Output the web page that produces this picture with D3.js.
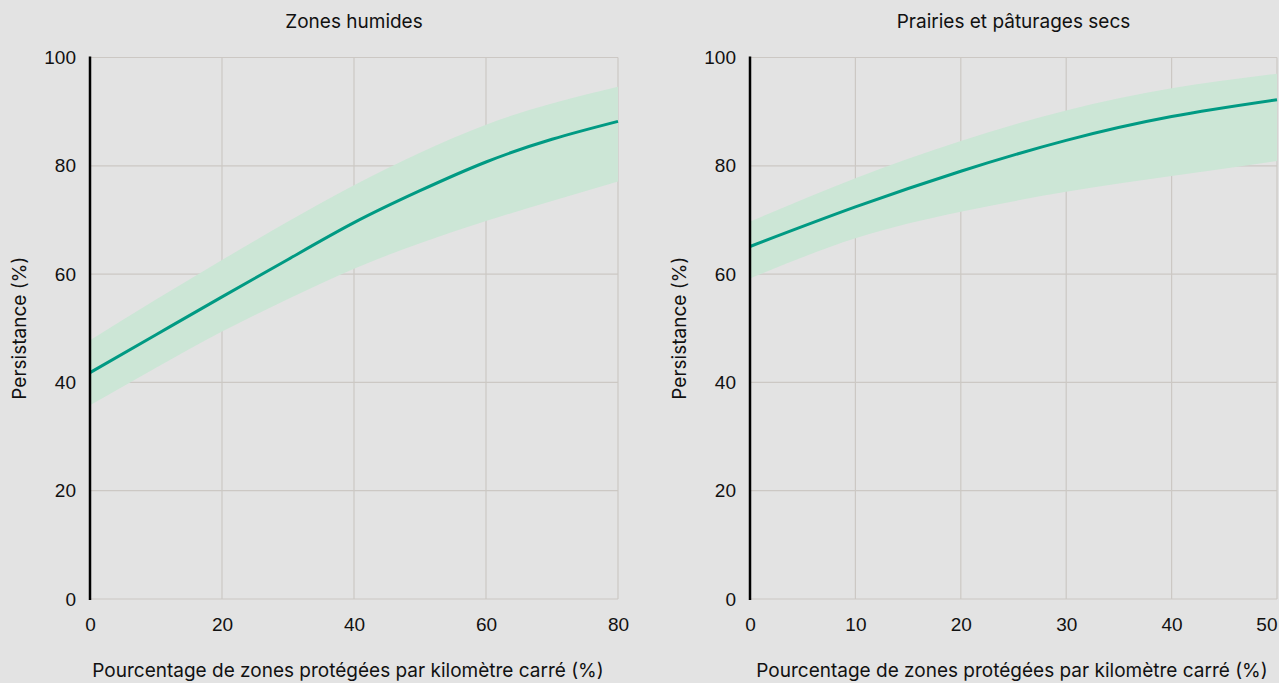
<!DOCTYPE html>
<html lang="fr">
<head>
<meta charset="utf-8">
<script src="https://cdn.jsdelivr.net/npm/d3@7"></script>
<style>
  html, body { margin: 0; padding: 0; background: #e3e3e3; }
  svg { display: block; font-family: Inter, "Noto Sans", sans-serif; }
  .tick text { fill: #111; font-size: 19px; }
</style>
</head>
<body>
<svg id="chart" width="1279" height="683"></svg>
<script>
// Axis ticks shared by both panels
const yTicks = [0, 20, 40, 60, 80, 100];

// Zones humides: modelled persistence with confidence band
const wetX   = [0, 10, 20, 30, 40, 50, 60, 70, 80];
const wetMid = [41.8, 48.8, 55.8, 62.7, 69.5, 75.4, 80.7, 84.9, 88.2];
const wetHi  = [47.8, 55.3, 62.6, 69.7, 76.4, 82.4, 87.6, 91.5, 94.6];
const wetLo  = [35.8, 42.7, 49.4, 55.4, 61.0, 65.7, 69.8, 73.5, 77.1];
const wetTicksX = [0, 20, 40, 60, 80];

// Prairies et pâturages secs
const dryX   = [0, 10, 20, 30, 40, 50];
const dryMid = [65.1, 72.4, 79.0, 84.7, 89.1, 92.2];
const dryHi  = [69.7, 77.7, 84.6, 90.2, 94.3, 97.0];
const dryLo  = [59.2, 66.6, 71.5, 75.2, 78.1, 80.9];
const dryTicksX = [0, 10, 20, 30, 40, 50];

const titles = ["Zones humides", "Prairies et pâturages secs"];
const xTitle = "Pourcentage de zones protégées par kilomètre carré (%)";
const yTitle = "Persistance (%)";

const panels = [
  { title: titles[0], xs: wetX, mid: wetMid, hi: wetHi, lo: wetLo, ticks: wetTicksX, xMax: 80,
    left: 90, right: 618, xTitleX: 348 },
  { title: titles[1], xs: dryX, mid: dryMid, hi: dryHi, lo: dryLo, ticks: dryTicksX, xMax: 50,
    left: 750, right: 1277, xTitleX: 1012 }
];

const plotTop = 57.5, plotBottom = 599;
const fontSize = 19;
const svg = d3.select("#chart");

panels.forEach(p => {
  const x = d3.scaleLinear().domain([0, p.xMax]).range([p.left, p.right]);
  const y = d3.scaleLinear().domain([0, 100]).range([plotBottom, plotTop]);
  const g = svg.append("g");

  // grid
  g.append("g").selectAll("line").data(yTicks).join("line")
    .attr("x1", p.left).attr("x2", p.right)
    .attr("y1", d => y(d)).attr("y2", d => y(d))
    .attr("stroke", "#ccc8c4").attr("stroke-width", 1.2);
  g.append("g").selectAll("line").data(p.ticks).join("line")
    .attr("x1", d => x(d)).attr("x2", d => x(d))
    .attr("y1", plotTop).attr("y2", plotBottom)
    .attr("stroke", "#ccc8c4").attr("stroke-width", 1.2);

  const rows = p.xs.map((v, i) => ({ x: v, mid: p.mid[i], hi: p.hi[i], lo: p.lo[i] }));

  // confidence band
  g.append("path").datum(rows)
    .attr("fill", "#cce6d6")
    .attr("d", d3.area().curve(d3.curveNatural)
      .x(d => x(d.x)).y0(d => y(d.lo)).y1(d => y(d.hi)));

  // central estimate
  g.append("path").datum(rows)
    .attr("fill", "none").attr("stroke", "#009a83").attr("stroke-width", 3)
    .attr("d", d3.line().curve(d3.curveNatural).x(d => x(d.x)).y(d => y(d.mid)));

  // axes (labels only)
  const ya = g.append("g").attr("transform", `translate(${p.left},0)`)
    .call(d3.axisLeft(y).tickValues(yTicks).tickSize(0).tickPadding(14));
  ya.select(".domain").remove();
  const xa = g.append("g").attr("transform", `translate(0,${plotBottom})`)
    .call(d3.axisBottom(x).tickValues(p.ticks).tickSize(0).tickPadding(19));
  xa.select(".domain").remove();
  // keep the last label inside the frame
  if (p.right > 1260) {
    xa.selectAll(".tick").filter(d => d === p.xMax).select("text").attr("text-anchor", "end");
  }

  // y axis line
  g.append("line")
    .attr("x1", p.left).attr("x2", p.left).attr("y1", plotTop - 1).attr("y2", plotBottom + 1)
    .attr("stroke", "#000").attr("stroke-width", 2.5);

  // panel title
  g.append("text").attr("x", (p.left + p.right) / 2).attr("y", 28)
    .attr("text-anchor", "middle").attr("font-size", fontSize).attr("fill", "#111")
    .text(p.title);

  // axis titles
  g.append("text").attr("x", p.xTitleX).attr("y", 677)
    .attr("text-anchor", "middle").attr("font-size", fontSize).attr("fill", "#111")
    .text(xTitle);
  g.append("text")
    .attr("transform", `translate(${p.left - 64},${(plotTop + plotBottom) / 2}) rotate(-90)`)
    .attr("text-anchor", "middle").attr("font-size", fontSize).attr("fill", "#111")
    .text(yTitle);
});
</script>
</body>
</html>
